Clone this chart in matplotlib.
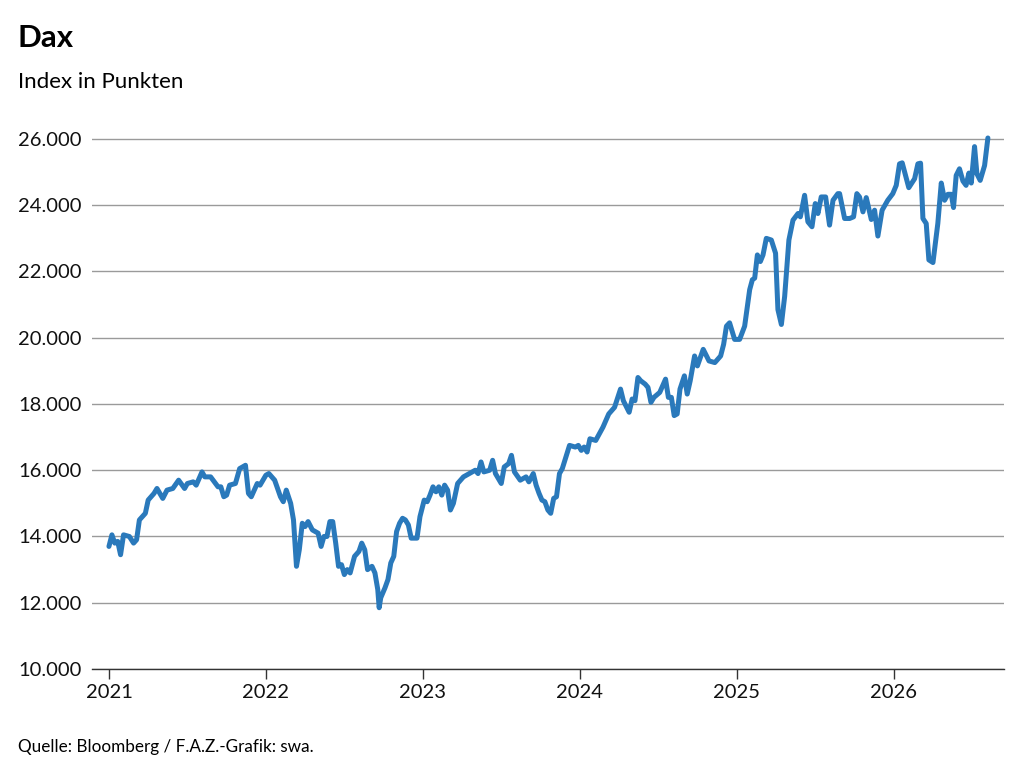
import matplotlib
matplotlib.use('Agg')
import matplotlib.pyplot as plt
from matplotlib.ticker import FuncFormatter

plt.rcParams['font.family'] = ['Lato', 'DejaVu Sans']

# offsets in years from the start of 2021
offsets = [
    0, .019, .037, .056, .074, .093, .130, .157, .176, .194, .232, .250, .287, .306,
    .343, .370, .407, .444, .482, .500, .537, .556, .593, .611, .648, .695, .713, .732,
    .750, .769, .806, .833, .870, .889, .907,
    .945, .963, 1.000, 1.019, 1.056, 1.093, 1.111, 1.130, 1.158, 1.176, 1.195, 1.213,
    1.232, 1.250, 1.269, 1.296, 1.333, 1.352, 1.370, 1.389, 1.408, 1.426, 1.445, 1.463,
    1.482, 1.500, 1.519, 1.537, 1.565, 1.593, 1.611, 1.630, 1.648, 1.676, 1.695, 1.713,
    1.722, 1.732, 1.759, 1.778, 1.796, 1.815, 1.833,
    1.852, 1.871, 1.889, 1.908, 1.926, 1.963, 1.982, 2.009, 2.028, 2.046, 2.065, 2.084,
    2.102, 2.121, 2.139, 2.158, 2.176, 2.195, 2.222, 2.259, 2.296, 2.334, 2.352, 2.371,
    2.389, 2.426, 2.445, 2.463, 2.500, 2.519, 2.547, 2.565, 2.584, 2.621, 2.658, 2.676,
    2.704, 2.722, 2.741, 2.759,
    2.778, 2.797, 2.815, 2.834, 2.852, 2.871, 2.889, 2.935, 2.972, 2.991, 3.010, 3.028,
    3.047, 3.065, 3.102, 3.148, 3.185, 3.222, 3.260, 3.278, 3.315, 3.334, 3.352, 3.371,
    3.389, 3.417, 3.435, 3.454, 3.473, 3.510, 3.547, 3.565, 3.584, 3.602, 3.621, 3.639,
    3.667, 3.685,
    3.704, 3.732, 3.750, 3.787, 3.824, 3.861, 3.898, 3.917, 3.935,
    3.955, 3.987, 4.019, 4.051, 4.083, 4.100, 4.115, 4.132, 4.151, 4.168, 4.189, 4.221,
    4.248, 4.263, 4.285, 4.306, 4.333, 4.359, 4.391, 4.406, 4.433, 4.454, 4.480, 4.501,
    4.518, 4.539, 4.567, 4.592, 4.614, 4.645, 4.656, 4.688, 4.720, 4.745, 4.766, 4.783,
    4.805, 4.826, 4.858, 4.879, 4.900, 4.927, 4.963, 4.995, 5.017, 5.038, 5.055, 5.097,
    5.134, 5.155, 5.172, 5.187, 5.208, 5.225, 5.251, 5.282, 5.304, 5.325, 5.346, 5.368,
    5.382, 5.399, 5.420, 5.442, 5.462, 5.480, 5.495, 5.516, 5.531, 5.552, 5.580, 5.601,
]

points = [
    13700, 14050, 13800, 13850, 13450, 14050, 14000, 13800, 13900, 14500, 14700, 15100, 15300, 15450,
    15150, 15400, 15450, 15700, 15450, 15600, 15650, 15550, 15950, 15800, 15800, 15500, 15500, 15200,
    15250, 15550, 15600, 16050, 16150, 15300, 15200,
    15600, 15550, 15850, 15900, 15700, 15200, 15050, 15400, 15000, 14500, 13100, 13600,
    14400, 14300, 14450, 14200, 14100, 13700, 14000, 14000, 14450, 14450, 13800, 13100,
    13150, 12850, 13000, 12900, 13400, 13550, 13800, 13600, 13000, 13100, 12900, 12400,
    11850, 12150, 12450, 12700, 13200, 13400, 14150,
    14400, 14550, 14500, 14350, 13950, 13950, 14600, 15100, 15050, 15250, 15500, 15350,
    15500, 15250, 15550, 15400, 14800, 15000, 15600, 15800, 15900, 16000, 15900, 16250,
    15950, 16000, 16300, 15900, 15600, 16100, 16200, 16450, 15950, 15700, 15800, 15650,
    15900, 15550, 15300, 15100,
    15050, 14800, 14700, 15150, 15200, 15900, 16050, 16750, 16700, 16750, 16600, 16700,
    16550, 16950, 16900, 17300, 17700, 17900, 18450, 18100, 17750, 18150, 18100, 18800,
    18700, 18600, 18500, 18050, 18200, 18350, 18750, 18200, 18200, 17650, 17700, 18450,
    18850, 18300,
    18700, 19450, 19150, 19650, 19300, 19250, 19450, 19800, 20350,
    20450, 19950, 19950, 20350, 21450, 21750, 21800, 22500, 22300, 22500, 23000, 22950,
    22550, 20850, 20400, 21250, 22950, 23550, 23750, 23650, 24300, 23500, 23350, 24050,
    23750, 24250, 24250, 23400, 24150, 24350, 24350, 23600, 23600, 23650, 24350, 24250,
    23800, 24230, 23570, 23850, 23070, 23850, 24150, 24350, 24600, 25250, 25280, 24530,
    24800, 25250, 25270, 23600, 23450, 22350, 22270, 23450, 24670, 24150, 24330, 24330,
    23930, 24900, 25100, 24730, 24600, 24970, 24670, 25770, 24950, 24750, 25200, 26030,
]

start_year = 2021
years = [start_year + d for d in offsets]
year_ticks = [2021, 2022, 2023, 2024, 2025, 2026]
value_ticks = [10000, 12000, 14000, 16000, 18000, 20000, 22000, 24000, 26000]

fig = plt.figure(figsize=(10.24, 7.79), dpi=100)
ax = fig.add_axes([0.0898, 0.1412, 0.8902, 0.6974])

ax.plot(years, points, color='#2a79bb', linewidth=3.6, solid_joinstyle='round',
        solid_capstyle='round', zorder=3)

ax.set_xlim(start_year - 17 / 157, start_year + 895 / 157)
ax.set_ylim(10000, 26400)

ax.set_yticks(value_ticks)
ax.yaxis.set_major_formatter(FuncFormatter(lambda v, p: f'{int(v):,}'.replace(',', '.')))
ax.tick_params(axis='y', length=0, pad=53, labelsize=14.5, colors='#111111')
for lbl in ax.get_yticklabels():
    lbl.set_horizontalalignment('left')

ax.set_xticks(year_ticks)
ax.set_xticklabels([str(y) for y in year_ticks])
ax.tick_params(axis='x', length=7, width=1, color='#333333', labelsize=14.5,
               colors='#111111', pad=4)

ax.grid(axis='y', color='#9a9a9a', linewidth=1)
ax.set_axisbelow(True)
for side in ['top', 'right', 'left']:
    ax.spines[side].set_visible(False)
ax.spines['bottom'].set_color('#333333')
ax.spines['bottom'].set_linewidth(1)

fig.text(18 / 1024, 1 - 38 / 779, 'Dax', fontsize=22.5, fontweight='bold', va='center', ha='left')
fig.text(18 / 1024, 1 - 82 / 779, 'Index in Punkten', fontsize=16, va='center', ha='left')
fig.text(18 / 1024, 1 - 747 / 779, 'Quelle: Bloomberg / F.A.Z.-Grafik: swa.', fontsize=12.3,
         va='center', ha='left')

fig.savefig('out.png', dpi=100)
